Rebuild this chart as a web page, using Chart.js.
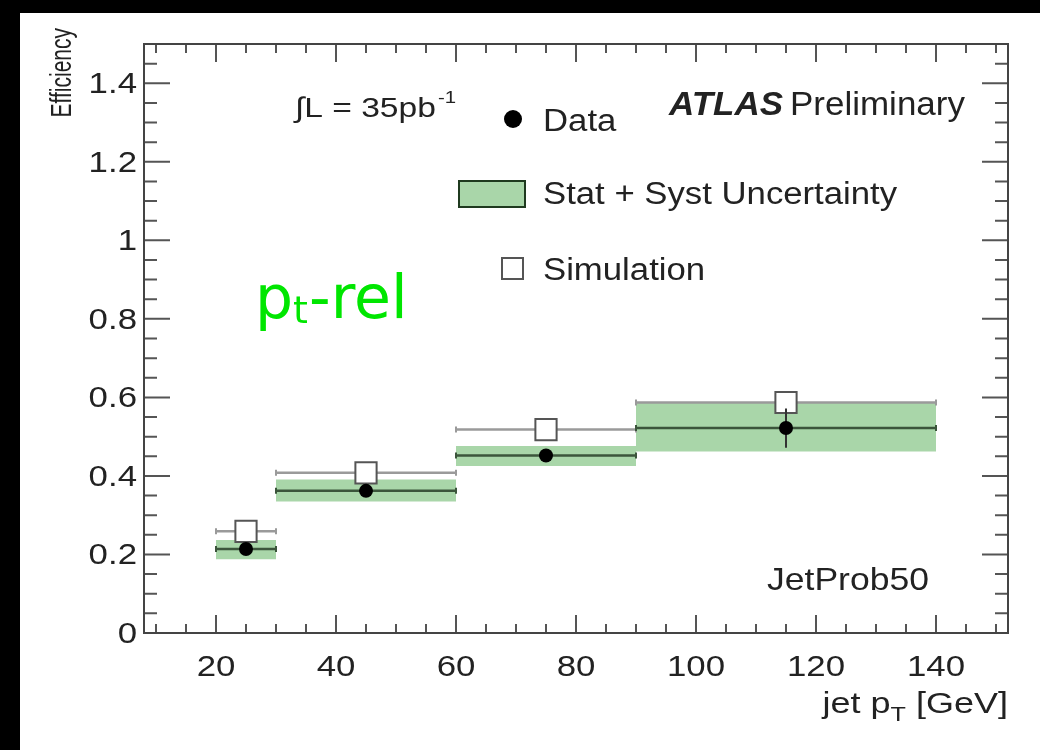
<!DOCTYPE html>
<html>
<head>
<meta charset="utf-8">
<script src="https://cdn.jsdelivr.net/npm/chart.js@4.4.1/dist/chart.umd.min.js"></script>
<style>
  html, body { margin: 0; padding: 0; background: #000; }
  #wrap { position: absolute; left: 20px; top: 13px; width: 1020px; height: 737px; background: #fff; }
</style>
</head>
<body>
<div id="wrap"><canvas id="eff"></canvas></div>
<script>
// jet pT bins (GeV)
var BIN_LO = [20, 30, 60, 90];
var BIN_HI = [30, 60, 90, 140];
var BIN_CENTER = [25, 45, 75, 115];
// measured efficiency (data) and its stat error
var DATA_EFF = [0.214, 0.362, 0.452, 0.522];
var DATA_ERR = [0.012, 0.012, 0.015, 0.05];
// stat + syst uncertainty band
var BAND_LO = [0.188, 0.335, 0.425, 0.462];
var BAND_HI = [0.237, 0.391, 0.476, 0.588];
// simulation
var SIM_EFF = [0.259, 0.408, 0.518, 0.587];
// axis ticks
var X_TICKS = [20, 40, 60, 80, 100, 120, 140];
var Y_TICKS = [0, 0.2, 0.4, 0.6, 0.8, 1, 1.2, 1.4];
var Y_LABELS = ['0', '0.2', '0.4', '0.6', '0.8', '1', '1.2', '1.4'];

var FONT = "'Liberation Sans', Arial, Helvetica, sans-serif";
var BAND = '#a9d6a9';
var DATA_LINE = '#3b553b';
var SIM_LINE = '#9a9a9a';
var TEXT = '#222';

// horizontal step segments, broken between bins
function steps(vals) {
  var pts = [];
  vals.forEach(function (v, i) {
    pts.push({ x: BIN_LO[i], y: v }, { x: BIN_HI[i], y: v }, { x: BIN_HI[i], y: null });
  });
  return pts;
}
function capRadius(c) { return c.raw && c.raw.y != null ? 3 : 0; }

var datasets = [];
BIN_LO.forEach(function (lo, i) {
  datasets.push({
    type: 'line', data: [{ x: lo, y: BAND_HI[i] }, { x: BIN_HI[i], y: BAND_HI[i] }],
    borderWidth: 0, pointRadius: 0, fill: '+1', backgroundColor: BAND, order: 6
  });
  datasets.push({
    type: 'line', data: [{ x: lo, y: BAND_LO[i] }, { x: BIN_HI[i], y: BAND_LO[i] }],
    borderWidth: 0, pointRadius: 0, fill: false, order: 6
  });
});
datasets.push({
  type: 'line', data: steps(SIM_EFF), borderColor: SIM_LINE, borderWidth: 2.5,
  spanGaps: false, fill: false, pointStyle: 'line', rotation: 90,
  pointRadius: capRadius, pointBorderColor: SIM_LINE, pointBorderWidth: 2, order: 5
});
datasets.push({
  type: 'scatter', data: BIN_CENTER.map(function (c, i) { return { x: c, y: SIM_EFF[i] }; }),
  pointStyle: 'rect', pointRadius: 15, backgroundColor: '#fff', borderColor: '#555', borderWidth: 2, order: 4
});
datasets.push({
  type: 'line', data: steps(DATA_EFF), borderColor: DATA_LINE, borderWidth: 2.5,
  spanGaps: false, fill: false, pointStyle: 'line', rotation: 90,
  pointRadius: capRadius, pointBorderColor: DATA_LINE, pointBorderWidth: 2, order: 3
});
datasets.push({
  type: 'line',
  data: [].concat.apply([], BIN_CENTER.map(function (c, i) {
    return [{ x: c, y: DATA_EFF[i] - DATA_ERR[i] }, { x: c, y: DATA_EFF[i] + DATA_ERR[i] }, { x: c, y: null }];
  })),
  borderColor: '#333', borderWidth: 2, pointRadius: 0, spanGaps: false, fill: false, order: 2
});
datasets.push({
  type: 'scatter', data: BIN_CENTER.map(function (c, i) { return { x: c, y: DATA_EFF[i] }; }),
  pointStyle: 'circle', pointRadius: 7, backgroundColor: '#000', borderColor: '#000', borderWidth: 0, order: 1
});

function font(size, style) { return (style || '') + ' ' + size + 'px ' + FONT; }

// text stretched horizontally like the scanned figure; returns drawn width
function txt(ctx, s, x, y, size, sx, style) {
  ctx.save();
  ctx.font = font(size, style);
  ctx.translate(x, y);
  ctx.scale(sx, 1);
  ctx.fillText(s, 0, 0);
  var w = ctx.measureText(s).width * sx;
  ctx.restore();
  return w;
}

// frame, inward ticks and all the ROOT-style text
var decor = {
  id: 'decor',
  afterDraw: function (chart) {
    var ctx = chart.ctx, a = chart.chartArea, x = chart.scales.x, y = chart.scales.y;
    ctx.save();
    ctx.strokeStyle = '#555';
    ctx.lineWidth = 2;
    ctx.beginPath();
    for (var v = 10; v <= 150; v += 5) {
      var px = x.getPixelForValue(v), len = X_TICKS.indexOf(v) >= 0 ? 18 : 9;
      ctx.moveTo(px, a.bottom); ctx.lineTo(px, a.bottom - len);
      ctx.moveTo(px, a.top); ctx.lineTo(px, a.top + len);
    }
    for (var k = 0; k <= 30; k++) {
      var py = y.getPixelForValue(k * 0.05), l = k % 4 === 0 ? 26 : 13;
      ctx.moveTo(a.left, py); ctx.lineTo(a.left + l, py);
      ctx.moveTo(a.right, py); ctx.lineTo(a.right - l, py);
    }
    ctx.stroke();
    ctx.strokeStyle = '#444';
    ctx.strokeRect(a.left, a.top, a.right - a.left, a.bottom - a.top);

    ctx.fillStyle = TEXT;
    // tick labels
    ctx.textAlign = 'right'; ctx.textBaseline = 'middle';
    Y_TICKS.forEach(function (t, i) { txt(ctx, Y_LABELS[i], a.left - 7, y.getPixelForValue(t) + 2, 29, 1.2); });
    ctx.textAlign = 'center';
    X_TICKS.forEach(function (t) { txt(ctx, String(t), x.getPixelForValue(t), a.bottom + 35, 29, 1.2); });

    // x title: jet p_T [GeV], right aligned
    ctx.textBaseline = 'alphabetic'; ctx.textAlign = 'left';
    var sx = 1.2;
    ctx.font = font(30);
    var w1 = ctx.measureText('jet p').width * sx, w3 = ctx.measureText(' [GeV]').width * sx;
    ctx.font = font(21);
    var w2 = ctx.measureText('T').width * sx;
    var x0 = a.right - w1 - w2 - w3, base = a.bottom + 80;
    txt(ctx, 'jet p', x0, base, 30, sx);
    txt(ctx, 'T', x0 + w1, base + 8, 21, sx);
    txt(ctx, ' [GeV]', x0 + w1 + w2, base, 30, sx);

    // y title
    ctx.save();
    ctx.translate(43, a.top - 16);
    ctx.rotate(-Math.PI / 2);
    ctx.scale(1, 1.4);
    ctx.font = font(21); ctx.textAlign = 'right'; ctx.textBaseline = 'middle';
    ctx.fillText('Efficiency', 0, 0);
    ctx.restore();

    // luminosity
    var wl = txt(ctx, '\u222BL = 35pb', 275, 104, 28, 1.2);
    txt(ctx, '-1', 275 + wl + 2, 90, 17, 1.2);

    // ATLAS Preliminary
    var wa = txt(ctx, 'ATLAS', 649, 102, 33, 1.06, 'italic bold');
    txt(ctx, 'Preliminary', 649 + wa + 7, 102, 33, 1.06);

    // legend
    txt(ctx, 'Data', 523, 118, 31, 1.12);
    txt(ctx, 'Stat + Syst Uncertainty', 523, 191, 31, 1.12);
    txt(ctx, 'Simulation', 523, 267, 31, 1.12);
    ctx.beginPath(); ctx.arc(493, 106, 9, 0, 2 * Math.PI); ctx.fillStyle = '#000'; ctx.fill();
    ctx.fillStyle = BAND; ctx.fillRect(439, 168, 66, 26);
    ctx.strokeStyle = '#1f3a1f'; ctx.lineWidth = 2; ctx.strokeRect(439, 168, 66, 26);
    ctx.fillStyle = '#fff'; ctx.fillRect(482, 245, 21, 21);
    ctx.strokeStyle = '#555'; ctx.strokeRect(482, 245, 21, 21);

    // JetProb50
    ctx.fillStyle = TEXT;
    txt(ctx, 'JetProb50', 747, 577, 32, 1.11);

    // pt-rel annotation
    ctx.fillStyle = '#00e600';
    var gf = "'DejaVu Sans', sans-serif";
    ctx.font = '60px ' + gf; ctx.fillText('p', 235, 305);
    var wp = ctx.measureText('p').width;
    ctx.font = '38px ' + gf; ctx.fillText('t', 235 + wp, 310);
    var wt = ctx.measureText('t').width;
    ctx.font = '60px ' + gf; ctx.fillText('-rel', 235 + wp + wt + 1, 305);
    ctx.restore();
  }
};

new Chart(document.getElementById('eff'), {
  data: { datasets: datasets },
  options: {
    responsive: true, maintainAspectRatio: false, animation: false,
    layout: { padding: { left: 124, right: 32, top: 31, bottom: 117 } },
    plugins: { legend: { display: false }, tooltip: { enabled: false } },
    scales: {
      x: { type: 'linear', min: 8, max: 152, display: false },
      y: { type: 'linear', min: 0, max: 1.5, display: false }
    }
  },
  plugins: [decor]
});
</script>
</body>
</html>
